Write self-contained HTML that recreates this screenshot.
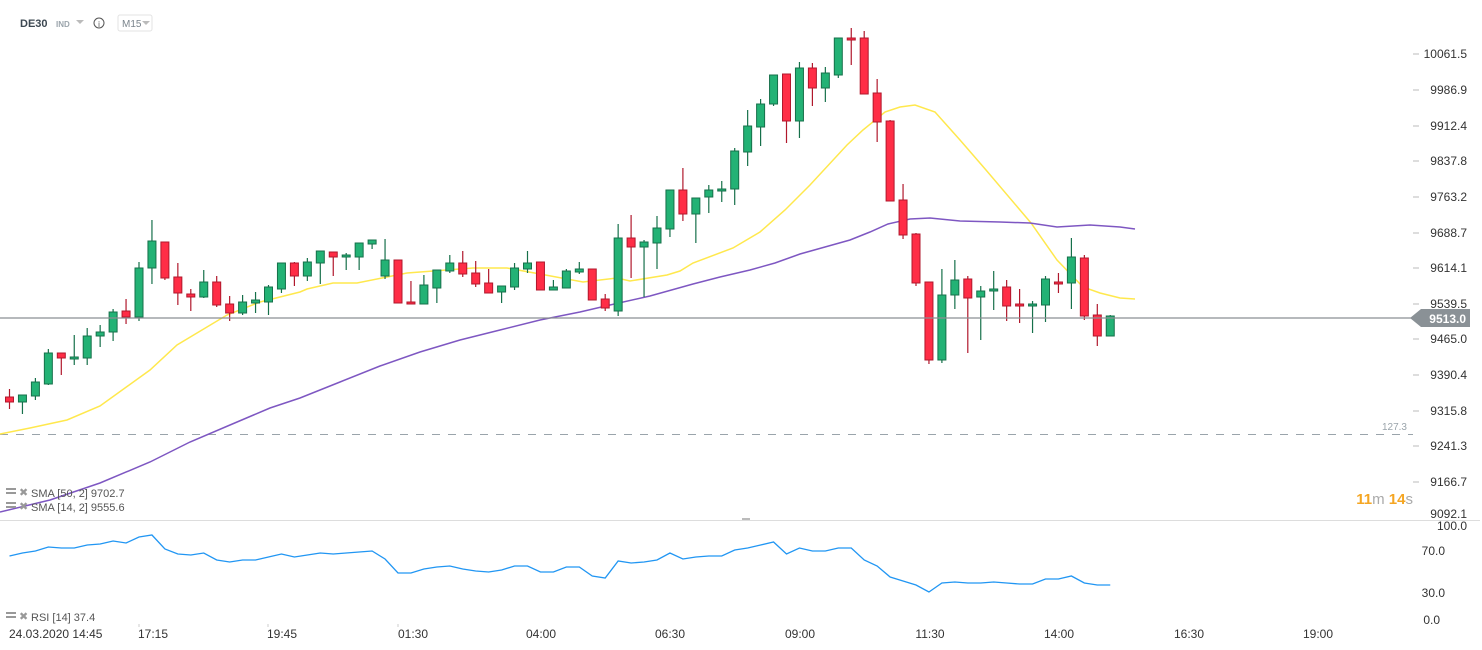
<!DOCTYPE html>
<html><head><meta charset="utf-8">
<style>
html,body{margin:0;padding:0;background:#fff;width:1482px;height:650px;overflow:hidden;font-family:"Liberation Sans",sans-serif;}
svg{position:absolute;left:0;top:0}
text{font-family:"Liberation Sans",sans-serif}
</style></head><body>
<svg id="s" width="1482" height="650" xmlns="http://www.w3.org/2000/svg">
<g font-size="12" fill="#333" text-anchor="end" id="ax">
<text x="1467" y="58">10061.5</text>
<text x="1467" y="94">9986.9</text>
<text x="1467" y="130">9912.4</text>
<text x="1467" y="165">9837.8</text>
<text x="1467" y="201">9763.2</text>
<text x="1467" y="237">9688.7</text>
<text x="1467" y="272">9614.1</text>
<text x="1467" y="308">9539.5</text>
<text x="1467" y="343">9465.0</text>
<text x="1467" y="379">9390.4</text>
<text x="1467" y="415">9315.8</text>
<text x="1467" y="450">9241.3</text>
<text x="1467" y="486">9166.7</text>
<text x="1467" y="518">9092.1</text>
<text x="1467" y="530">100.0</text>
<text x="1445" y="555">70.0</text>
<text x="1445" y="597">30.0</text>
<text x="1440" y="624">0.0</text>
</g>
<g stroke="#bbb" stroke-width="1">
<line x1="1413" x2="1419" y1="54" y2="54"/><line x1="1413" x2="1419" y1="90" y2="90"/><line x1="1413" x2="1419" y1="126" y2="126"/><line x1="1413" x2="1419" y1="161" y2="161"/><line x1="1413" x2="1419" y1="197" y2="197"/><line x1="1413" x2="1419" y1="233" y2="233"/><line x1="1413" x2="1419" y1="268" y2="268"/><line x1="1413" x2="1419" y1="304" y2="304"/><line x1="1413" x2="1419" y1="339" y2="339"/><line x1="1413" x2="1419" y1="375" y2="375"/><line x1="1413" x2="1419" y1="411" y2="411"/><line x1="1413" x2="1419" y1="446" y2="446"/><line x1="1413" x2="1419" y1="482" y2="482"/>
</g>
<line x1="0" x2="1480" y1="520.5" y2="520.5" stroke="#ddd"/>
<rect x="742" y="518" width="8" height="2" fill="#bbb"/>
<line x1="0" x2="1413" y1="434.5" y2="434.5" stroke="#9aa4ab" stroke-dasharray="8,8"/>
<text x="1407" y="430" font-size="10" fill="#9aa4ab" text-anchor="end">127.3</text>
<g id="c"></g>
<line x1="0" x2="1412" y1="318" y2="318" stroke="#8a8f93" stroke-width="1.2"/>
<polygon points="1410,318 1421,309 1470,309 1470,327 1421,327" fill="#8a9196"/>
<text x="1466" y="323" font-size="12" font-weight="bold" fill="#fff" text-anchor="end">9513.0</text>
<text x="1413" y="504" font-size="15" text-anchor="end" font-weight="bold" fill="#f5a623">11<tspan fill="#aaa" font-weight="normal">m</tspan> 14<tspan fill="#aaa" font-weight="normal">s</tspan></text>
<g font-size="11" fill="#555">
<rect x="6" y="488" width="10" height="2" fill="#999"/><rect x="6" y="492" width="10" height="2" fill="#999"/><text x="19" y="496" fill="#999">✖</text><text x="31" y="497">SMA [50,  2]  9702.7</text>
<rect x="6" y="502" width="10" height="2" fill="#999"/><rect x="6" y="506" width="10" height="2" fill="#999"/><text x="19" y="510" fill="#999">✖</text><text x="31" y="511">SMA [14,  2]  9555.6</text>
<rect x="6" y="612" width="10" height="2" fill="#999"/><rect x="6" y="616" width="10" height="2" fill="#999"/><text x="19" y="620" fill="#999">✖</text><text x="31" y="621">RSI  [14]  37.4</text>
</g>
<g font-size="12" fill="#333">
<text x="9" y="638">24.03.2020  14:45</text>
<g text-anchor="middle"><text x="153" y="638">17:15</text><text x="282" y="638">19:45</text><text x="413" y="638">01:30</text><text x="541" y="638">04:00</text><text x="670" y="638">06:30</text><text x="800" y="638">09:00</text><text x="930" y="638">11:30</text><text x="1059" y="638">14:00</text><text x="1189" y="638">16:30</text><text x="1318" y="638">19:00</text></g>
</g>
<g stroke="#ccc"><line x1="139" x2="139" y1="624" y2="627"/><line x1="268" x2="268" y1="624" y2="627"/><line x1="398" x2="398" y1="624" y2="627"/></g>
<text x="20" y="27" font-size="11" font-weight="bold" fill="#3d4852">DE30</text>
<text x="56" y="27" font-size="8" font-weight="bold" fill="#9aa4ab">IND</text>
<polygon points="76,20 84,20 80,24" fill="#bbb"/>
<circle cx="99" cy="23" r="5" fill="none" stroke="#555"/><text x="99" y="27" font-size="8" fill="#555" text-anchor="middle">i</text>
<rect x="118" y="15" width="34" height="16" rx="2" fill="#fff" stroke="#e3e3e3"/>
<text x="122" y="27" font-size="10" fill="#7a848c">M15</text>
<polygon points="142,21 150,21 146,25" fill="#bbb"/>
</svg>
<script>
var C=[[397,402,389,409],[402,395,395,414],[396,382,378,400],[384,353,349,385],[353,358,353,375],[359,357,335,365],[358,336,328,365],[336,332,325,347],[332,312,309,341],[311,317,299,324],[317,268,262,321],[268,241,220,284],[242,278,242,280],[277,293,263,305],[294,297,289,311],[297,282,270,298],[282,305,276,307],[304,313,296,321],[313,302,295,315],[303,300,292,313],[302,287,285,315],[289,263,263,293],[263,276,262,286],
[276,262,258,281],[263,251,251,284],[252,257,252,276],[257,255,253,270],[257,243,243,270],[244,240,240,249],[276,260,239,279],[260,303,260,303],[302,304,281,304],[304,285,275,304],[288,270,270,303],[271,263,255,273],[263,274,251,277],[273,284,261,287],[283,293,269,293],[292,286,286,303],[287,268,263,290],[269,263,251,273],[262,290,262,290],[290,287,280,290],[288,271,269,288],[272,269,262,274],[269,300,269,300],[299,308,294,311],
[311,238,224,316],[238,247,215,278],[247,242,240,297],[243,228,216,269],[229,190,190,237],[190,214,168,221],[214,198,198,243],[197,190,185,213],[191,189,181,202],[189,151,148,205],[152,126,110,166],[127,104,99,146],[104,75,75,106],[74,121,74,143],[121,68,62,138],[68,88,63,106],[88,73,67,102],[75,38,38,78],[38,40,28,65],[38,94,31,94],[93,122,79,142],[121,201,120,201],[200,235,184,239],
[234,283,233,286],[282,360,282,364],[360,295,269,363],[295,280,260,309],[279,298,276,353],[297,291,286,340],[291,289,271,310],[287,306,280,321],[304,306,289,323],[306,304,301,333],[305,279,276,322],[282,284,273,293],[283,257,238,309],[258,316,255,320],[315,336,304,346],[336,316,315,336]];
var h='';
var Y=[[0,434],[30,428],[67,420],[100,406],[150,370],[177,345],[227,315],[260,302],[300,292],[307,289],[333,283],[357,283],[407,273],[473,268],[507,268],[540,274],[583,282],[617,278],[630,281],[667,275],[680,271],[693,263],[733,248],[760,232],[785,210],[810,185],[847,145],[863,130],[885,112],[900,107],[915,105],[935,112],[960,140],[986,170],[1031,223],[1057,260],[1083,287],[1100,293],[1120,298],[1135,299]];
var P=[[0,512],[50,500],[100,483],[150,462],[190,442],[230,425],[270,408],[300,398],[340,382],[380,366],[420,352],[460,340],[500,330],[540,320],[580,312],[610,305],[650,296],[693,284],[720,277],[750,270],[775,263],[800,254],[825,247],[850,240],[870,232],[888,224],[910,219],[930,218],[960,221],[1000,222],[1030,223],[1057,227],[1090,225],[1120,227],[1135,229]];
function pl(a,c,w){return '<polyline fill="none" stroke="'+c+'" stroke-width="'+w+'" points="'+a.map(function(p){return p.join(',')}).join(' ')+'"/>';}
h+=pl(Y,'#ffe84d',1.5)+pl(P,'#7e57c2',1.5);
for(var i=0;i<C.length;i++){var c=C[i],x=9.5+12.95*i,up=c[1]<c[0];
var col=up?'#23b275':'#ff2d46',st=up?'#16704a':'#b0182c';
var t=Math.min(c[0],c[1]),b=Math.max(c[0],c[1]);if(b-t<2)b=t+2;
h+='<line x1="'+x+'" x2="'+x+'" y1="'+c[2]+'" y2="'+c[3]+'" stroke="'+st+'" stroke-width="1.2"/>';
h+='<rect x="'+(x-4)+'" y="'+t+'" width="8" height="'+(b-t)+'" fill="'+col+'" stroke="'+st+'" stroke-width="1"/>';}
var R=[556,553,551,547,548,548,545,544,541,543,537,535,549,554,555,553,560,562,560,560,557,554,557,555,553,554,553,552,551,559,573,573,569,567,566,569,571,572,570,566,566,572,572,567,567,576,578,561,563,562,560,553,559,557,556,556,550,548,545,542,554,548,551,551,548,548,560,566,577,581,585,592,583,582,583,583,582,583,584,584,579,579,576,583,585,585];
h+='<polyline fill="none" stroke="#2196f3" stroke-width="1.3" points="'+R.map(function(y,i){return (9.5+12.95*i)+','+y}).join(' ')+'"/>';
document.getElementById('c').innerHTML=h;
</script>
</body></html>
